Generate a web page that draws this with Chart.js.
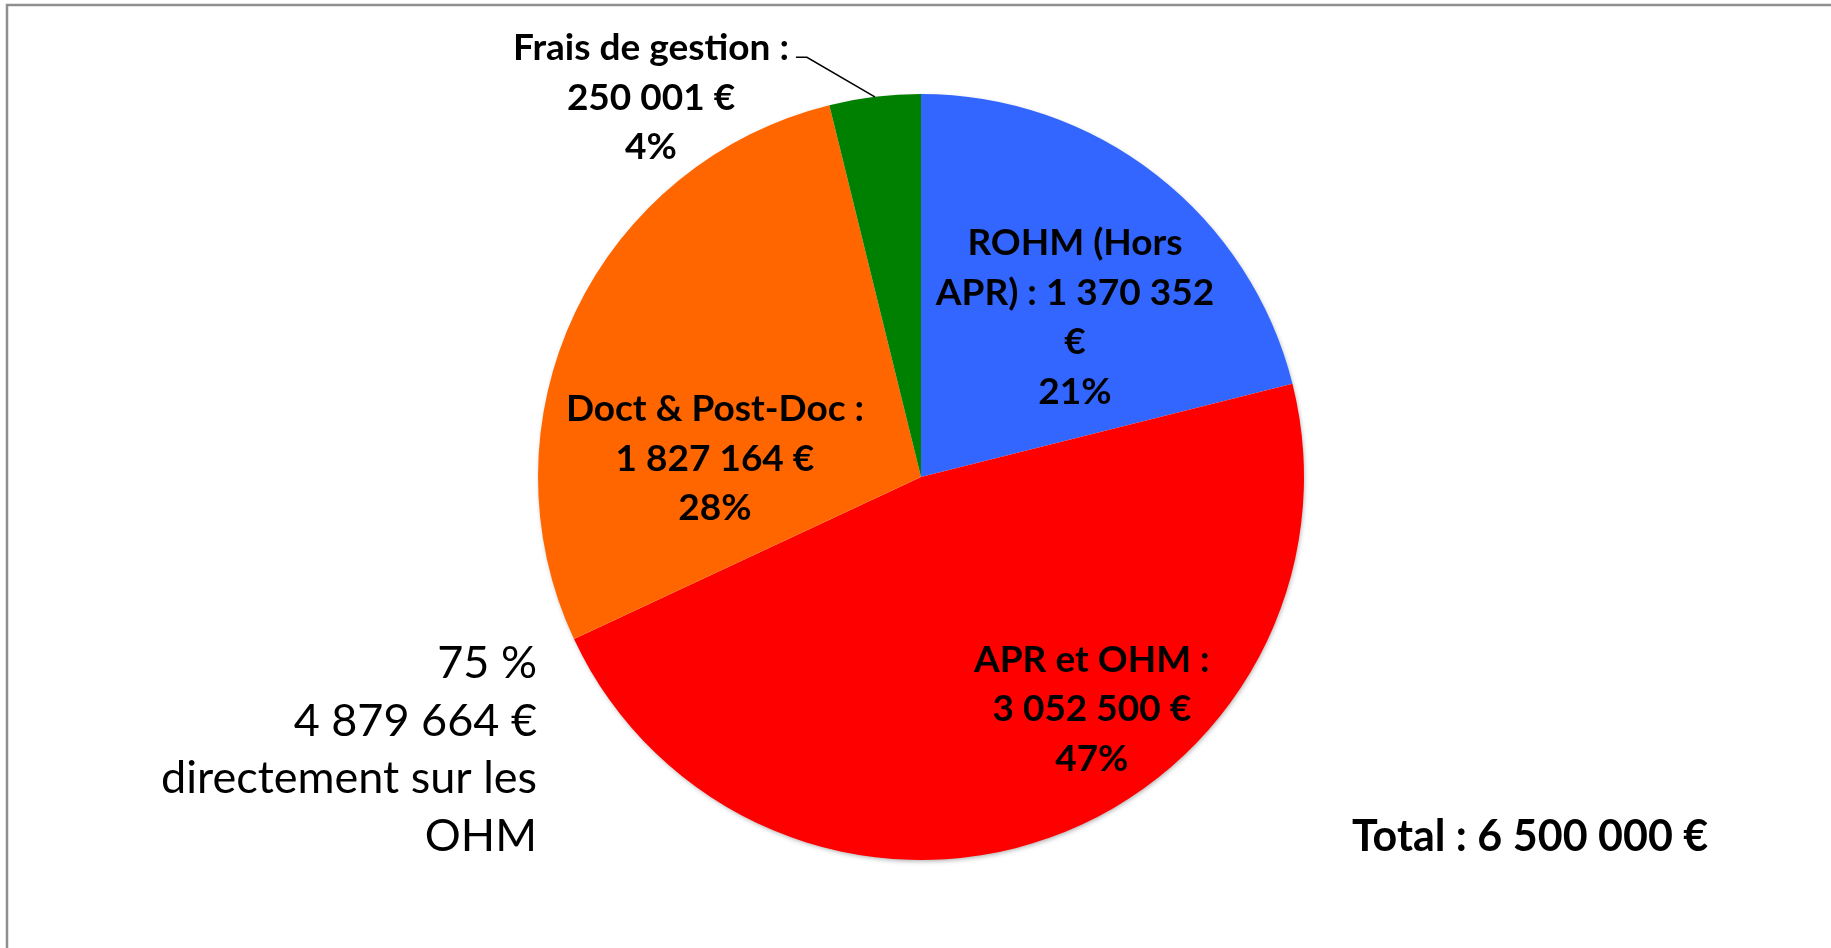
<!DOCTYPE html>
<html>
<head>
<meta charset="utf-8">
<script src="https://cdn.jsdelivr.net/npm/chart.js@4.4.1/dist/chart.umd.min.js"></script>
<style>
  html, body { margin: 0; padding: 0; background: #fff; }
  #wrap { position: relative; width: 1831px; height: 948px; }
</style>
</head>
<body>
<div id="wrap"><canvas id="budgetChart"></canvas></div>
<script>
// ------------------------------------------------------------------
//   data
// ------------------------------------------------------------------
const categories = ['ROHM (Hors APR)', 'APR et OHM', 'Doct & Post-Doc', 'Frais de gestion'];
const amounts = [1370352, 3052500, 1827164, 250001];
const sliceColors = ['#3366FF', '#FF0000', '#FF6600', '#008000'];
const noteLines = ['75 %', '4 879 664 €', 'directement sur les', 'OHM'];
const totalLabel = 'Total : 6 500 000 €';

// label placement, in units of the pie radius from its centre
const labelAnchors = [[0.402, -0.416], [0.446, 0.607], [-0.538, -0.048], [-0.705, -0.990]];
const labelWrap = [288, 245, 306, 330];

const labelFont = 'bold 37px Lato';
const noteFont = '45px Lato';
const totalFont = 'bold 43px Lato';

function formatEuro(v) {
    // thousands separated by non breaking spaces, like Excel
    return String(v).replace(/\B(?=(\d{3})+(?!\d))/g, '\u00a0');
}

function wrapText(ctx, text, maxWidth) {
    const words = text.split(' ');
    const lines = [];
    let line = '';
    words.forEach(w => {
        const test = line ? line + ' ' + w : w;
        if (line && ctx.measureText(test).width > maxWidth) {
            lines.push(line);
            line = w;
        } else {
            line = test;
        }
    });
    if (line) lines.push(line);
    return lines;
}

// ------------------------------------------------------------------
//   plugins
// ------------------------------------------------------------------
const frame = {
    id: 'frame',
    beforeDraw(chart) {
        const ctx = chart.ctx;
        ctx.save();
        ctx.strokeStyle = '#8f8f8f';
        ctx.lineWidth = 2.5;
        ctx.strokeRect(7, 5, chart.width + 20, chart.height + 20);
        ctx.restore();
    }
};

const pieShadow = {
    id: 'pieShadow',
    beforeDatasetsDraw(chart) {
        const arc = chart.getDatasetMeta(0).data[0];
        const { x, y, outerRadius } = arc.getProps(['x', 'y', 'outerRadius'], true);
        const ctx = chart.ctx;
        ctx.save();
        ctx.shadowColor = 'rgba(0,0,0,0.35)';
        ctx.shadowBlur = 5;
        ctx.shadowOffsetX = 1;
        ctx.shadowOffsetY = 2;
        ctx.fillStyle = '#fff';
        ctx.beginPath();
        ctx.arc(x, y, outerRadius - 1, 0, Math.PI * 2);
        ctx.fill();
        ctx.restore();
    }
};

const sliceLabels = {
    id: 'sliceLabels',
    afterDatasetsDraw(chart) {
        const ctx = chart.ctx;
        const meta = chart.getDatasetMeta(0);
        const data = chart.data.datasets[0].data;
        const total = data.reduce((a, b) => a + b, 0);
        const lineHeight = 49.5;

        ctx.save();
        ctx.font = labelFont;
        ctx.fillStyle = '#000';
        ctx.textAlign = 'center';
        ctx.textBaseline = 'middle';

        meta.data.forEach((arc, i) => {
            const { x, y, outerRadius, startAngle, endAngle } =
                arc.getProps(['x', 'y', 'outerRadius', 'startAngle', 'endAngle'], true);
            const text = chart.data.labels[i] + '\u00a0: ' + formatEuro(data[i]) + ' €';
            const lines = wrapText(ctx, text, labelWrap[i]);
            lines.push(Math.round(data[i] / total * 100) + '%');

            const ax = x + labelAnchors[i][0] * outerRadius;
            const ay = y + labelAnchors[i][1] * outerRadius;
            const top = ay - (lines.length - 1) * lineHeight / 2;
            lines.forEach((l, k) => ctx.fillText(l, ax, top + k * lineHeight));

            // leader line for labels sitting outside the pie
            const dist = Math.hypot(labelAnchors[i][0], labelAnchors[i][1]);
            if (dist > 1) {
                const mid = (startAngle + endAngle) / 2;
                const ex = x + Math.cos(mid) * outerRadius;
                const ey = y + Math.sin(mid) * outerRadius;
                const sx = ax + ctx.measureText(lines[0]).width / 2 + 7;
                const sy = top + 9;
                ctx.strokeStyle = '#000';
                ctx.lineWidth = 1.5;
                ctx.beginPath();
                ctx.moveTo(sx, sy);
                ctx.lineTo(sx + 11, sy);
                ctx.lineTo(ex, ey);
                ctx.stroke();
            }
        });

        // annotations
        const arc0 = meta.data[0].getProps(['x', 'y', 'outerRadius'], true);
        ctx.textBaseline = 'alphabetic';
        ctx.font = noteFont;
        ctx.textAlign = 'right';
        noteLines.forEach((l, k) => {
            ctx.fillText(l, arc0.x - arc0.outerRadius - 1, arc0.y + 201 + k * 57.7);
        });

        ctx.font = totalFont;
        ctx.textAlign = 'left';
        ctx.fillText(totalLabel, arc0.x + 431, arc0.y + 374);
        ctx.restore();
    }
};

// ------------------------------------------------------------------
//   chart
// ------------------------------------------------------------------
const ctx = document.getElementById('budgetChart').getContext('2d');

window.budgetChart = new Chart(ctx, {
    type: 'pie',
    data: {
        labels: categories,
        datasets: [{
            data: amounts,
            backgroundColor: sliceColors,
            borderWidth: 0
        }]
    },
    options: {
        responsive: true,
        maintainAspectRatio: false,
        animation: false,
        layout: {
            padding: { left: 538, right: 527, top: 94, bottom: 88 }
        },
        plugins: {
            legend: { display: false },
            tooltip: { enabled: false }
        }
    },
    plugins: [frame, pieShadow, sliceLabels]
});
</script>
</body>
</html>
